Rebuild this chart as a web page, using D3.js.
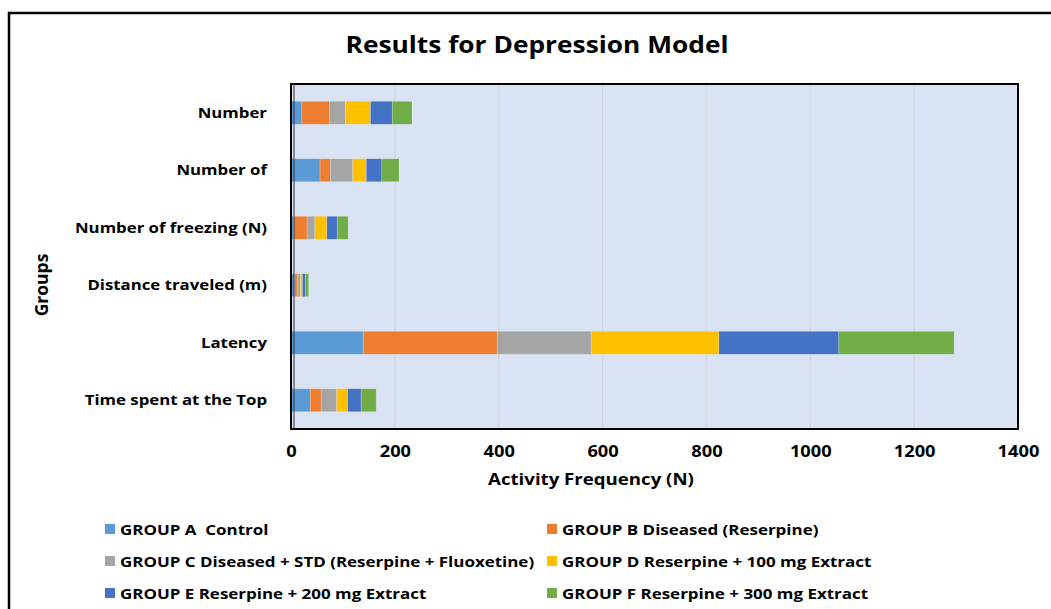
<!DOCTYPE html>
<html><head><meta charset="utf-8">
<script src="https://cdn.jsdelivr.net/npm/d3@7/dist/d3.min.js"></script>
<style>body{margin:0;background:#fff;} svg{display:block;} text{font-family:"Open Sans",sans-serif;font-weight:700;fill:#000;white-space:pre;}</style>
</head><body><svg id="c" width="1051" height="609"></svg>
<script>
const categories = ["Number", "Number of", "Number of freezing (N)", "Distance traveled (m)", "Latency", "Time spent at the Top"];
const seriesNames = ["GROUP A  Control", "GROUP B Diseased (Reserpine)", "GROUP C Diseased + STD (Reserpine + Fluoxetine)", "GROUP D Reserpine + 100 mg Extract", "GROUP E Reserpine + 200 mg Extract", "GROUP F Reserpine + 300 mg Extract"];
const groupA = [21, 56, 5, 7, 139, 37];
const groupB = [53, 20, 26, 5, 258, 21];
const groupC = [31, 43, 15, 6, 181, 30];
const groupD = [48, 26, 23, 4, 246, 21];
const groupE = [42, 30, 20, 6, 231, 26];
const groupF = [38, 33, 21, 6, 222, 29];
const xTicks = [0, 200, 400, 600, 800, 1000, 1200, 1400];
const colors = ["#5B9BD5", "#ED7D31", "#A5A5A5", "#FFC000", "#4472C4", "#70AD47"];

const series = [groupA, groupB, groupC, groupD, groupE, groupF];
const rows = categories.map((c, i) => {
  const o = {cat: c};
  series.forEach((s, j) => o["s" + j] = s[i]);
  return o;
});
const keys = series.map((s, j) => "s" + j);
const stacked = d3.stack().keys(keys)(rows);

const svg = d3.select("#c");
const P = {l: 291, r: 1018, t: 84, b: 429};

function stretch(sel, sx) {
  sel.each(function() {
    const t = d3.select(this);
    const x0 = +(t.attr("x") || 0);
    t.attr("x", x0 / sx).attr("transform", (t.attr("transform") || "") + ` scale(${sx},1)`);
  });
}

// outer frame
svg.append("rect").attr("x", 9).attr("y", 13).attr("width", 1100).attr("height", 700)
  .attr("fill", "none").attr("stroke", "#000").attr("stroke-width", 2.5);

const x = d3.scaleLinear().domain([0, 1400]).range([P.l, P.r]);
const y = d3.scaleBand().domain(categories).range([P.t, P.b]).paddingInner(0.6).paddingOuter(0.3);

// plot background
svg.append("rect").attr("x", P.l).attr("y", P.t).attr("width", P.r - P.l).attr("height", P.b - P.t)
  .attr("fill", "#DAE3F3");

// gridlines
svg.append("g").selectAll("line").data(xTicks.slice(1, -1)).join("line")
  .attr("x1", d => x(d)).attr("x2", d => x(d)).attr("y1", P.t).attr("y2", P.b)
  .attr("stroke", "#D0D4DA").attr("stroke-width", 1.2);

// bars
svg.append("g").selectAll("g").data(stacked).join("g")
  .attr("fill", (d, i) => colors[i])
  .selectAll("rect").data(d => d).join("rect")
  .attr("x", d => x(d[0])).attr("width", d => x(d[1]) - x(d[0]))
  .attr("y", d => y(d.data.cat)).attr("height", y.bandwidth())
  .attr("stroke", "rgba(255,255,255,0.35)").attr("stroke-width", 0.6);

// plot border
svg.append("rect").attr("x", P.l).attr("y", P.t).attr("width", P.r - P.l).attr("height", P.b - P.t)
  .attr("fill", "none").attr("stroke", "#000").attr("stroke-width", 2);
svg.append("line").attr("x1", P.l + 3).attr("x2", P.l + 3).attr("y1", P.t).attr("y2", P.b)
  .attr("stroke", "#333").attr("stroke-width", 1);

// x axis
const xAxis = svg.append("g").attr("transform", `translate(0,${P.b})`)
  .call(d3.axisBottom(x).tickValues(xTicks).tickSize(0).tickPadding(17).tickFormat(d3.format("d")));
xAxis.select(".domain").remove();
xAxis.selectAll("text").attr("font-size", 15.5).style("font-family", "'Open Sans',sans-serif").style("font-weight", 700).attr("fill", "#000");
stretch(xAxis.selectAll("text"), 1.18);

// y axis
const yAxis = svg.append("g").attr("transform", `translate(${P.l},0)`)
  .call(d3.axisLeft(y).tickSize(0).tickPadding(24));
yAxis.select(".domain").remove();
yAxis.selectAll("text").attr("font-size", 15).style("font-family", "'Open Sans',sans-serif").style("font-weight", 700).attr("fill", "#000");
stretch(yAxis.selectAll("text"), 1.12);

// titles
const t1 = svg.append("text").attr("x", 537).attr("y", 53).attr("text-anchor", "middle").attr("font-size", 23.5)
  .text("Results for Depression Model");
stretch(t1, 1.12);
const t2 = svg.append("text").attr("x", 591).attr("y", 485).attr("text-anchor", "middle").attr("font-size", 16.5)
  .text("Activity Frequency (N)");
stretch(t2, 1.13);
svg.append("text").attr("transform", "translate(48,285) rotate(-90)").attr("text-anchor", "middle").attr("font-size", 17.5)
  .text("Groups");

// legend
const legPos = [[105, 529], [547, 529], [105, 561], [547, 561], [105, 593], [547, 593]];
const leg = svg.append("g").selectAll("g").data(seriesNames).join("g")
  .attr("transform", (d, i) => `translate(${legPos[i][0]},${legPos[i][1]})`);
leg.append("rect").attr("x", 0).attr("y", -5).attr("width", 10).attr("height", 10).attr("fill", (d, i) => colors[i]);
const lt = leg.append("text").attr("x", 15).attr("y", 5.5).attr("font-size", 14.5).text(d => d);
stretch(lt, 1.17);
</script></body></html>
